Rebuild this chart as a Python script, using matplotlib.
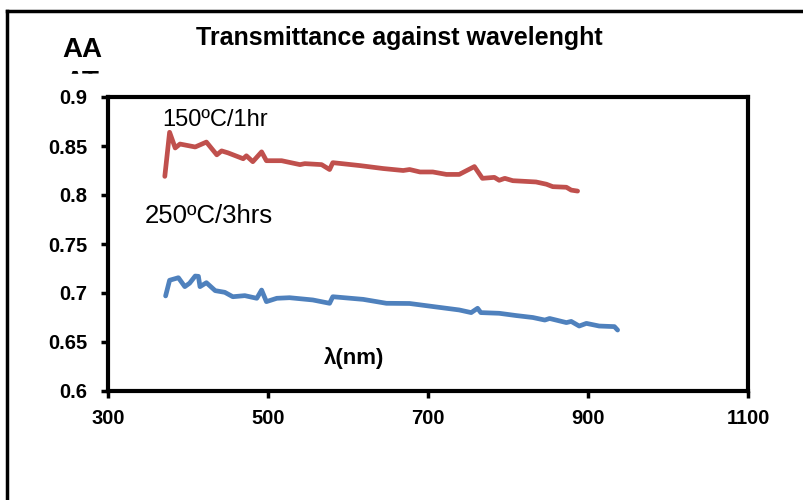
import matplotlib.pyplot as plt
from matplotlib.lines import Line2D
from matplotlib.patches import Rectangle

# ---- data ----
wl_150 = [371, 377, 384, 390, 409, 423, 436, 442, 450, 469, 473, 481, 492, 498,
          517, 540, 546, 567, 577, 581, 615, 644, 669, 677, 690, 706, 723, 739,
          758, 768, 783, 789, 796, 806, 835, 848, 856, 873, 879, 887]
t_150 = [0.819, 0.864, 0.848, 0.852, 0.849, 0.854, 0.841, 0.845, 0.843, 0.837,
         0.840, 0.834, 0.844, 0.835, 0.835, 0.831, 0.832, 0.831, 0.826, 0.833,
         0.830, 0.827, 0.825, 0.826, 0.8235, 0.8235, 0.821, 0.821, 0.829, 0.817,
         0.818, 0.815, 0.817, 0.8146, 0.8133, 0.811, 0.8085, 0.8079, 0.805, 0.804]

wl_250 = [372, 377, 388, 396, 402, 409, 413, 415, 423, 434, 446, 456, 471, 486,
          492, 498, 511, 527, 556, 577, 581, 619, 648, 677, 706, 739, 754, 762,
          766, 789, 810, 831, 846, 852, 873, 879, 889, 898, 914, 933, 937]
t_250 = [0.697, 0.713, 0.7156, 0.7065, 0.710, 0.7173, 0.717, 0.7065, 0.7105,
         0.7024, 0.7007, 0.6962, 0.6973, 0.6946, 0.703, 0.6912, 0.6946, 0.6952,
         0.6929, 0.6895, 0.6962, 0.6935, 0.6895, 0.6893, 0.6862, 0.6827, 0.680,
         0.6844, 0.680, 0.6793, 0.677, 0.675, 0.6724, 0.674, 0.6698, 0.671,
         0.6663, 0.669, 0.6663, 0.6657, 0.6622]

x_ticks = [300, 500, 700, 900, 1100]
y_ticks = [0.6, 0.65, 0.7, 0.75, 0.8, 0.85, 0.9]
y_ticklabels = ["0.6", "0.65", "0.7", "0.75", "0.8", "0.85", "0.9"]

plt.rcParams['font.family'] = ['Liberation Sans', 'DejaVu Sans']

W, H = 804, 500
fig = plt.figure(figsize=(W / 100, H / 100), dpi=100)
ax = fig.add_axes([108 / W, 1 - 391 / H, 640 / W, 294 / H])
ax.set_zorder(2)

ax.plot(wl_150, t_150, color="#C0504D", lw=3.4, solid_capstyle="round")
ax.plot(wl_250, t_250, color="#4F81BD", lw=3.4, solid_capstyle="round")

ax.set_xlim(300, 1100)
ax.set_ylim(0.6, 0.9)
ax.set_xticks(x_ticks)
ax.set_yticks(y_ticks)
ax.set_yticklabels(y_ticklabels)
for s in ax.spines.values():
    s.set_linewidth(3)
ax.tick_params(direction="out", length=5, width=2.5, labelsize=14.5)
ax.tick_params(axis="x", pad=8)
ax.tick_params(axis="y", pad=10)
for lab in ax.get_xticklabels() + ax.get_yticklabels():
    lab.set_fontweight("bold")

ax.text(368, 0.8765, "150ºC/1hr", fontsize=17, va="center", ha="left")
ax.text(346, 0.7786, "250ºC/3hrs", fontsize=18.5, va="center", ha="left")
ax.text(607, 0.6337, "λ(nm)", fontsize=16, fontweight="bold",
        va="center", ha="center")

# title
fig.text(196 / W, 1 - 45 / H, "Transmittance against wavelenght",
         fontsize=18, fontweight="bold", va="baseline", ha="left")

# "AA" with the next line cut off
fig.text(82 / W, 1 - 57 / H, "AA", fontsize=20, fontweight="bold",
         va="baseline", ha="center")
fig.text(82 / W, 1 - 90 / H, "AT", fontsize=20, fontweight="bold",
         va="baseline", ha="center", zorder=0.5)
fig.add_artist(Rectangle((50 / W, 1 - 96 / H), 70 / W, 22 / H,
                         transform=fig.transFigure, color="white", zorder=1))

# outer frame (left and top edges)
fig.add_artist(Line2D([7 / W, 7 / W], [0, 1 - 11 / H], transform=fig.transFigure,
                      color="black", lw=2.5, zorder=3))
fig.add_artist(Line2D([7 / W, 1], [1 - 11 / H, 1 - 11 / H], transform=fig.transFigure,
                      color="black", lw=2.5, zorder=3))

fig.savefig("out.png", dpi=100)
